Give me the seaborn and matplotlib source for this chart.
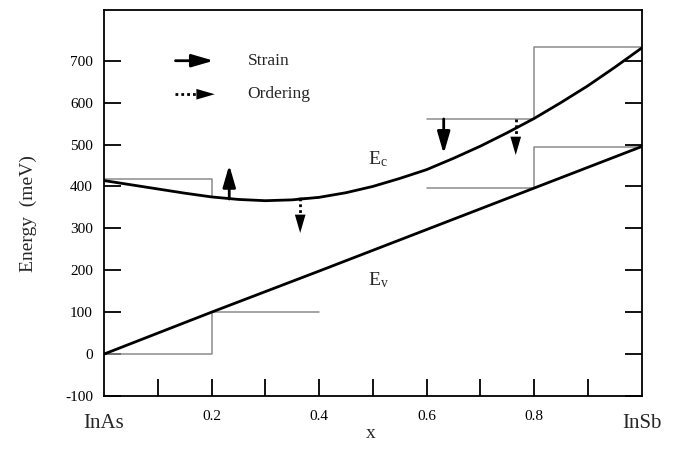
import numpy as np
import pandas as pd
import matplotlib
matplotlib.use("Agg")
import matplotlib.pyplot as plt
import seaborn as sns

# ---------------- data ----------------
x_comp = [0.0, 0.05, 0.1, 0.15, 0.2, 0.25, 0.3, 0.35, 0.4, 0.45, 0.5,
          0.55, 0.6, 0.65, 0.7, 0.75, 0.8, 0.85, 0.9, 0.95, 1.0]
ec_vals = [414, 404, 394, 384, 375, 369, 366, 368, 374, 385, 400,
           419, 440, 467, 496, 528, 562, 600, 640, 684, 730]
ev_x = [0.0, 0.2, 0.4, 0.6, 0.8, 1.0]
ev_vals = [0, 100, 198, 297, 396, 495]

# thin stepped band-edge lines (segments)
step_seg = ["c1", "c1", "c1", "c2", "c2", "c3", "c3", "c3", "c3",
            "v1", "v1", "v1", "v1", "v2", "v2", "v2", "v2"]
step_x = [0.0, 0.2, 0.2, 0.363, 0.4, 0.6, 0.8, 0.8, 1.0,
          0.0, 0.2, 0.2, 0.4, 0.6, 0.8, 0.8, 1.0]
step_y = [417, 417, 375, 372, 372, 561, 561, 733, 733,
          0, 0, 100, 100, 396, 396, 495, 495]

# arrows
strain_x = [0.233, 0.632]
strain_from = [370, 561]
strain_to = [451, 478]
ordering_x = [0.365, 0.766]
ordering_from = [372, 561]
ordering_to = [289, 475]

y_ticks = [-100, 0, 100, 200, 300, 400, 500, 600, 700]
x_ticks = [0.1, 0.2, 0.3, 0.4, 0.5, 0.6, 0.7, 0.8, 0.9]
x_ticklabels = ["", "0.2", "", "0.4", "", "0.6", "", "0.8", ""]
end_labels = ["InAs", "InSb"]
end_pos = [0.0, 1.0]
legend_labels = ["Strain", "Ordering"]

# ---------------- style ----------------
sns.set_theme(style="ticks")
plt.rcParams["font.family"] = ["Liberation Serif", "DejaVu Serif"]
plt.rcParams["mathtext.fontset"] = "custom"
plt.rcParams["mathtext.rm"] = "Liberation Serif"
plt.rcParams["mathtext.it"] = "Liberation Serif:italic"
plt.rcParams["axes.unicode_minus"] = False

fig = plt.figure(figsize=(6.78, 4.5), dpi=100)
ax = fig.add_axes([104 / 678, 54 / 450, 537.5 / 678, 386 / 450])

# step lines
df_step = pd.DataFrame({"x": step_x, "y": step_y, "seg": step_seg})
sns.lineplot(data=df_step, x="x", y="y", units="seg", estimator=None,
             sort=False, color="#8c8c8c", lw=1.1, ax=ax, legend=False)

# band edges
sns.lineplot(x=x_comp, y=ec_vals, color="black", lw=2.0, ax=ax)
sns.lineplot(x=ev_x, y=ev_vals, color="black", lw=2.0, ax=ax)

HEAD = "-|>,head_length=1.1,head_width=0.32"
solid_props = dict(arrowstyle=HEAD, lw=2.0, color="black", shrinkA=0, shrinkB=0)
head_only = dict(arrowstyle=HEAD, lw=0.0, fc="black", ec="none",
                 shrinkA=0, shrinkB=0)
head_pts = 11.0  # head length in points


def dotted_arrow(p0, p1):
    """dotted shaft from p0 to base of a solid head at p1"""
    ax.annotate("", xy=p1, xytext=p0, arrowprops=head_only)
    # shaft: stop under the head (computed in display space)
    d0 = ax.transData.transform(p0)
    d1 = ax.transData.transform(p1)
    v = d1 - d0
    L = np.hypot(*v)
    cut = head_pts * fig.dpi / 72.0 * 0.85
    dm = d1 - v / L * cut
    pm = ax.transData.inverted().transform(dm)
    ax.plot([p0[0], pm[0]], [p0[1], pm[1]], color="black", lw=2.0,
            ls=(0, (1, 1.1)), solid_capstyle="butt", dash_capstyle="butt")


ax.set_xlim(0, 1)
ax.set_ylim(-100, 821)

for xx, y0, y1 in zip(strain_x, strain_from, strain_to):
    ax.annotate("", xy=(xx, y1), xytext=(xx, y0), arrowprops=solid_props)
for xx, y0, y1 in zip(ordering_x, ordering_from, ordering_to):
    dotted_arrow((xx, y0), (xx, y1))

# legend drawn as in the figure
ax.annotate("", xy=(0.204, 700), xytext=(0.133, 700), arrowprops=solid_props)
dotted_arrow((0.133, 620), (0.206, 620))
ax.text(0.267, 700, legend_labels[0], fontsize=12.5, va="center", ha="left")
ax.text(0.267, 620, legend_labels[1], fontsize=12.5, va="center", ha="left")

# band labels
ax.text(0.491, 466, r"E$_{\mathregular{c}}$", fontsize=14, va="center", ha="left")
ax.text(0.491, 177, r"E$_{\mathregular{v}}$", fontsize=14, va="center", ha="left")

# axes
ax.set_yticks(y_ticks)
ax.set_xticks(x_ticks)
ax.set_xticklabels(x_ticklabels)
ax.tick_params(axis="y", direction="in", length=12, width=1.3, left=True,
               right=True, labelright=False, labelsize=11, pad=8, colors="black")
ax.tick_params(axis="x", direction="in", length=12, width=1.3, bottom=True,
               top=False, labelsize=11, pad=10, colors="black")
for s in ax.spines.values():
    s.set_visible(True)
    s.set_linewidth(1.3)
    s.set_color("black")

for lab, pos in zip(end_labels, end_pos):
    ax.text(pos, -0.072, lab, transform=ax.get_xaxis_transform(),
            fontsize=15, ha="center", va="center", clip_on=False)

ax.set_xlabel("x", fontsize=14)
ax.xaxis.set_label_coords(0.497, -0.108)
ax.xaxis.label.set_verticalalignment("baseline")
ax.set_ylabel("Energy  (meV)", fontsize=14)
ax.yaxis.set_label_coords(-0.141, 0.472)
ax.yaxis.label.set_verticalalignment("center")

fig.savefig("out.png", dpi=100)
